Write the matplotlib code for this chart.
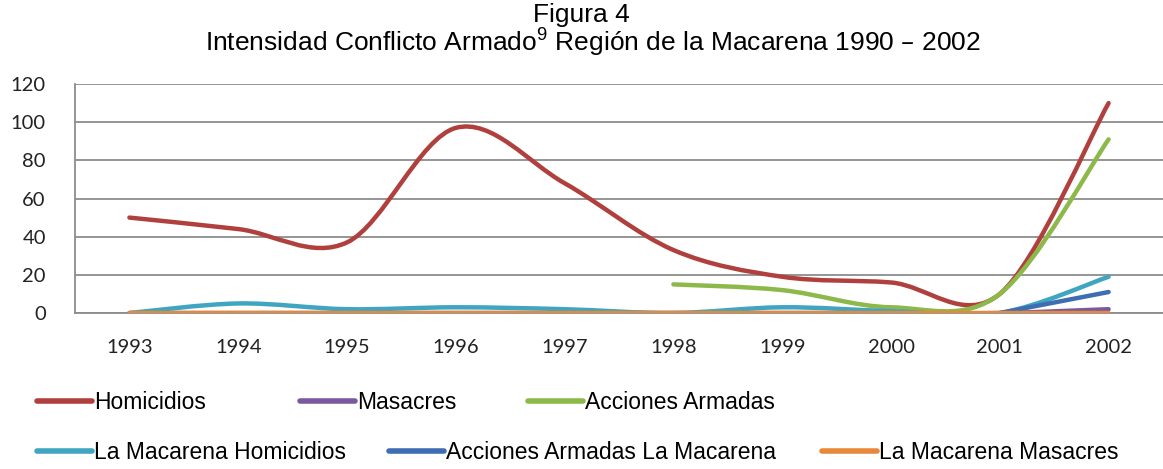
import matplotlib.pyplot as plt
from matplotlib.path import Path
from matplotlib.patches import PathPatch
from matplotlib.lines import Line2D

# Data
years = ["1993", "1994", "1995", "1996", "1997", "1998", "1999", "2000", "2001", "2002"]
homicidios = [50, 44, 37, 97, 68, 33, 19, 16, 10, 110]
masacres = [0, 0, 0, 0, 0, 0, 0, 0, 0, 2]
acciones_armadas = [None, None, None, None, None, 15, 12, 3, 10, 91]
mac_homicidios = [0, 5, 2, 3, 2, 0, 3, 1, 0, 19]
mac_acciones = [None, None, None, None, None, None, None, None, 0, 11]
mac_masacres = [0, 0, 0, 0, 0, 0, 0, 0, 0, 0]

series = [
    ("Homicidios", homicidios, "#B0403D"),
    ("Masacres", masacres, "#7A5A9E"),
    ("Acciones Armadas", acciones_armadas, "#8DB84A"),
    ("La Macarena Homicidios", mac_homicidios, "#3FA5C0"),
    ("Acciones Armadas La Macarena", mac_acciones, "#3F6DB3"),
    ("La Macarena Masacres", mac_masacres, "#E8893A"),
]

plt.rcParams["mathtext.default"] = "regular"


def smooth_path(xs, ys):
    # Excel-style smoothed line: Catmull-Rom segments as cubic Beziers
    verts = [(xs[0], ys[0])]
    codes = [Path.MOVETO]
    n = len(xs)
    for i in range(n - 1):
        x0, y0 = (xs[i - 1], ys[i - 1]) if i > 0 else (xs[i], ys[i])
        x1, y1 = xs[i], ys[i]
        x2, y2 = xs[i + 1], ys[i + 1]
        x3, y3 = (xs[i + 2], ys[i + 2]) if i + 2 < n else (x2, y2)
        verts += [(x1 + (x2 - x0) / 6, y1 + (y2 - y0) / 6),
                  (x2 - (x3 - x1) / 6, y2 - (y3 - y1) / 6),
                  (x2, y2)]
        codes += [Path.CURVE4] * 3
    return Path(verts, codes)


fig = plt.figure(figsize=(11.63, 4.69), dpi=100)
ax = fig.add_axes([0.0645, 0.3326, 0.9355, 0.4883])

# later series on top, as in the reference
for k, (name, vals, color) in enumerate(series):
    pts = [(i, v) for i, v in enumerate(vals) if v is not None]
    xs = [p[0] for p in pts]
    ys = [p[1] for p in pts]
    ax.add_patch(PathPatch(smooth_path(xs, ys), facecolor="none", edgecolor=color,
                           lw=3.2, capstyle="round", joinstyle="round", zorder=3 + k))

ax.set_xlim(-0.5, len(years) - 0.5)
ax.set_ylim(0, 120)
ax.set_yticks(range(0, 121, 20))
ax.set_xticks(range(len(years)))
ax.set_xticklabels(years)
ax.yaxis.grid(True, color="#8C8C8C", lw=1.3)
ax.set_axisbelow(True)
for s in ["top", "right"]:
    ax.spines[s].set_visible(False)
for s in ["left", "bottom"]:
    ax.spines[s].set_color("#8C8C8C")
    ax.spines[s].set_linewidth(1.3)
ax.tick_params(length=0, labelsize=14.5, colors="#222222")
ax.tick_params(axis="x", pad=19)
ax.tick_params(axis="y", pad=21)
for lab in ax.get_xticklabels() + ax.get_yticklabels():
    lab.set_family(["Lato"])
for lab in ax.get_yticklabels():
    lab.set_horizontalalignment("right")

title_font = ["Liberation Sans"]
fig.text(0.5, 0.968, "Figura 4", ha="center", va="center", fontsize=19, family=title_font)
fig.text(0.51, 0.908, "Intensidad Conflicto Armado$^{9}$ Región de la Macarena 1990 – 2002",
         ha="center", va="center", fontsize=19, family=title_font)

# legend entries placed as in the reference (two rows, free flowing)
legend_pos = [(0.0318, 0.859), (0.258, 0.859), (0.454, 0.859),
              (0.0318, 0.964), (0.3345, 0.964), (0.7068, 0.964)]
for (name, vals, color), (lx, ly) in zip(series, legend_pos):
    h = Line2D([], [], color=color, lw=4, solid_capstyle="round")
    fig.legend(handles=[h], labels=[name], loc="center left",
               bbox_to_anchor=(lx, 1 - ly), frameon=False, handlelength=2.4,
               handletextpad=0.1, borderpad=0, borderaxespad=0,
               prop={"family": title_font, "size": 16.5})

fig.savefig("out.png", dpi=100)
